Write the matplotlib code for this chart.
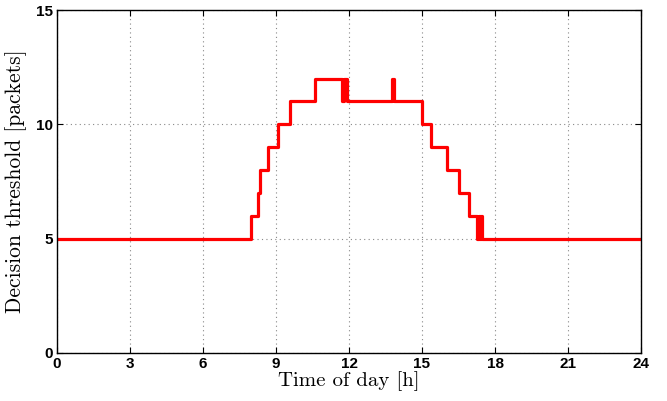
import matplotlib
matplotlib.use("Agg")
import matplotlib.pyplot as plt

# step change times [h] and threshold level after each change
t_change = [0.0, 7.97, 8.25, 8.34, 8.69, 9.10, 9.58, 10.60, 11.70, 11.80, 11.90,
            13.75, 13.86, 15.02, 15.36, 16.04, 16.54, 16.95, 17.28, 17.33, 17.38,
            17.43, 17.47, 24.0]
level = [5, 6, 7, 8, 9, 10, 11, 12, 11, 12, 11,
         12, 11, 10, 9, 8, 7, 6, 5, 6, 5,
         6, 5, 5]

xticks = [0, 3, 6, 9, 12, 15, 18, 21, 24]
yticks = [0, 5, 10, 15]

fig = plt.figure(figsize=(6.67, 4.01), dpi=100)
ax = fig.add_axes([57 / 667, 1 - 353 / 401, (641 - 57) / 667, (353 - 10) / 401])

ax.plot(t_change, level, drawstyle="steps-post", color="red", lw=2.3)

ax.set_xlim(0, 24)
ax.set_ylim(0, 15)
ax.set_xticks(xticks)
ax.set_yticks(yticks)
ax.grid(True, linestyle=(0, (1, 3)), color="#888888", lw=0.8)
ax.tick_params(direction="in", length=4, width=0.8, top=True, right=True, pad=3)
for lab in ax.get_xticklabels() + ax.get_yticklabels():
    lab.set_fontfamily(["Liberation Sans Narrow", "Liberation Sans", "DejaVu Sans"])
    lab.set_fontweight("bold")
    lab.set_fontsize(11)
for s in ax.spines.values():
    s.set_linewidth(1.0)

ax.set_xlabel("Time of day [h]", family="cmr10", fontsize=15, labelpad=0)
ax.set_ylabel("Decision threshold [packets]", family="cmr10", fontsize=15.5, labelpad=6)

fig.savefig("out.png", dpi=100)
